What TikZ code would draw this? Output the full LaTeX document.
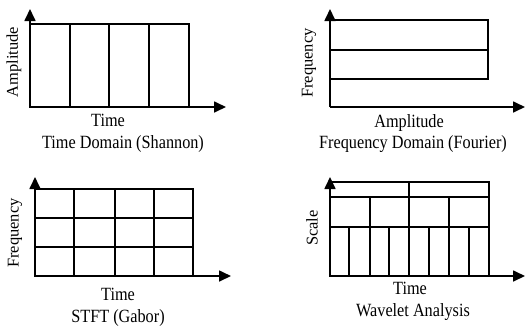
\documentclass[tikz,border=0pt]{standalone}
\usepackage{fontspec}
\setmainfont{Liberation Serif}
\usetikzlibrary{arrows.meta}
\begin{document}
\begin{tikzpicture}[x=1bp, y=-1bp,
  axis/.style={line width=1.7bp, -{Triangle[length=12bp, width=11bp]}},
  cell/.style={line width=1.2bp},
  lbl/.style={inner sep=0pt, yscale=1.15, font=\fontsize{16.3}{19}\selectfont},
  ylbl/.style={inner sep=0pt, rotate=90, font=\fontsize{16.5}{19}\selectfont}]
\useasboundingbox (0,0) rectangle (525,326);

% ---- Time domain (Shannon) ----
\coordinate (o1) at (30,107);
\coordinate (y1) at (30,9);
\coordinate (x1) at (226,107);
\draw[cell] (30,24) rectangle (189,107);
\foreach \xx in {70,109,149} \draw[cell] (\xx,24) -- (\xx,107);
\draw[axis] (o1) -- (y1);
\draw[axis] (o1) -- (x1);
\node[ylbl] (a1) at (14,62) {Amplitude};
\node[lbl] (t1) at (108,120) {Time};
\node[lbl] (c1) at (123,144) {Time Domain (Shannon)};

% ---- Frequency domain (Fourier) ----
\coordinate (o2) at (330,107);
\coordinate (y2) at (330,9);
\coordinate (x2) at (525,107);
\draw[cell] (330,20) rectangle (488,79);
\draw[cell] (330,50) -- (488,50);
\draw[axis] (o2) -- (y2);
\draw[axis] (o2) -- (x2);
\node[ylbl] (a2) at (309,63) {Frequency};
\node[lbl] (t2) at (409,123) {Amplitude};
\node[lbl] (c2) at (413,144) {Frequency Domain (Fourier)};

% ---- STFT (Gabor) ----
\coordinate (o3) at (35,276);
\coordinate (y3) at (35,177);
\coordinate (x3) at (231,276);
\draw[cell] (35,189) rectangle (193,276);
\foreach \xx in {74,115,154} \draw[cell] (\xx,189) -- (\xx,276);
\foreach \yy in {218,247} \draw[cell] (35,\yy) -- (193,\yy);
\draw[axis] (o3) -- (y3);
\draw[axis] (o3) -- (x3);
\node[ylbl] (a3) at (15,233) {Frequency};
\node[lbl] (t3) at (118,294) {Time};
\node[lbl] (c3) at (118,318) {STFT (Gabor)};

% ---- Wavelet analysis ----
\coordinate (o4) at (330,276);
\coordinate (y4) at (330,177);
\coordinate (x4) at (525,276);
\draw[cell] (330,182) rectangle (489,276);
\foreach \yy in {197,227} \draw[cell] (330,\yy) -- (489,\yy);
\draw[cell] (409,182) -- (409,197);
\foreach \xx in {370,409,449} \draw[cell] (\xx,197) -- (\xx,227);
\foreach \xx in {349,370,389,409,429,449,469} \draw[cell] (\xx,227) -- (\xx,276);
\draw[axis] (o4) -- (y4);
\draw[axis] (o4) -- (x4);
\node[ylbl] (a4) at (312,228) {Scale};
\node[lbl] (t4) at (410,288) {Time};
\node[lbl] (c4) at (413,312) {Wavelet Analysis};
\end{tikzpicture}
\end{document}
